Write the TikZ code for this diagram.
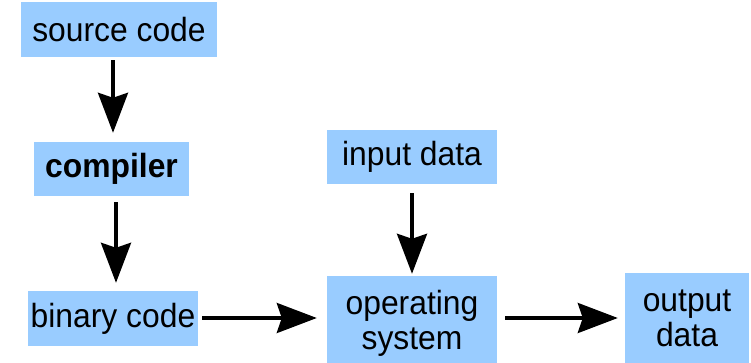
\documentclass[tikz,border=0pt]{standalone}
\usepackage{fontspec}
\setmainfont{Liberation Sans}[FakeStretch=0.95]
\usetikzlibrary{arrows.meta}
\definecolor{boxblue}{HTML}{99CCFF}
\tikzset{
  box/.style={fill=boxblue, draw=none, inner sep=0pt, align=center,
    font=\fontsize{33.5}{35}\selectfont},
  arr/.style={line width=3.5pt, -{Stealth[length=40pt, width=30pt, inset=5pt]}}
}
\begin{document}
\begin{tikzpicture}[x=1pt, y=-1pt]
\useasboundingbox (0,0) rectangle (751,363);
\node[box, minimum width=196pt, minimum height=55pt] (src) at (119,29.5) {source code};
\node[box, minimum width=155pt, minimum height=54pt] (comp) at (111.5,169) {\bfseries compiler};
\node[box, minimum width=170pt, minimum height=55pt] (bin) at (113,318.5) {binary code};
\node[box, minimum width=170pt, minimum height=54pt] (in) at (412,157) {input data};
\node[box, minimum width=170pt, minimum height=87pt, text depth=0pt] (os) at (412,319.5) {operating\\system};
\node[box, minimum width=124pt, minimum height=90pt] (out) at (687,318) {output\\data};
\draw[arr, shorten <=3pt, shorten >=9pt] ([xshift=1.5pt]src.south -| comp.north) -- ([xshift=1.5pt]comp.north);
\draw[arr, shorten <=6pt, shorten >=8pt] ([xshift=3pt]comp.south -| bin.north) -- ([xshift=3pt]bin.north);
\draw[arr, shorten <=9pt, shorten >=2pt] (in.south) -- (os.north);
\draw[arr, shorten <=4pt, shorten >=10pt] ([yshift=1.5pt]bin.east |- os.west) -- ([yshift=1.5pt]os.west);
\draw[arr, shorten <=8pt, shorten >=7pt] ([yshift=1.5pt]os.east) -- ([yshift=1.5pt]os.east -| out.west);
\end{tikzpicture}
\end{document}
